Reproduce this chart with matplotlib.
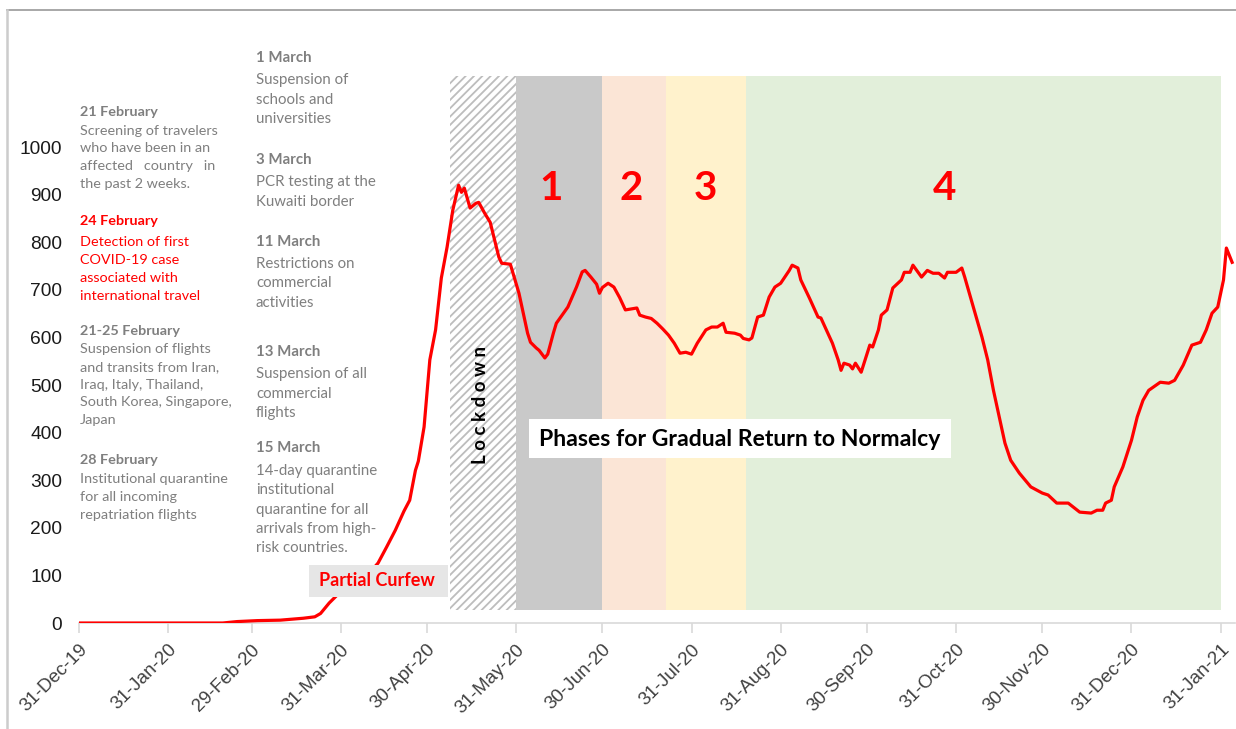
import matplotlib
matplotlib.use("Agg")
import matplotlib.pyplot as plt
import matplotlib.dates as mdates
import pandas as pd
from matplotlib.patches import Rectangle

# ---- data ----
dates = [
    "2019-12-31", "2020-02-19", "2020-02-24", "2020-03-02", "2020-03-10", "2020-03-18",
    "2020-03-22", "2020-03-24", "2020-03-27", "2020-03-30", "2020-04-03", "2020-04-07",
    "2020-04-11", "2020-04-13", "2020-04-16", "2020-04-19", "2020-04-22", "2020-04-24",
    "2020-04-26", "2020-04-27", "2020-04-29", "2020-05-01", "2020-05-03", "2020-05-05",
    "2020-05-07", "2020-05-09", "2020-05-11", "2020-05-12", "2020-05-13", "2020-05-15",
    "2020-05-17", "2020-05-18", "2020-05-20", "2020-05-22", "2020-05-25", "2020-05-26",
    "2020-05-29", "2020-06-01", "2020-06-04", "2020-06-05", "2020-06-07", "2020-06-08",
    "2020-06-10", "2020-06-11", "2020-06-13", "2020-06-14", "2020-06-16", "2020-06-18",
    "2020-06-21", "2020-06-23", "2020-06-24", "2020-06-26", "2020-06-28", "2020-06-29",
    "2020-06-30", "2020-07-02", "2020-07-04", "2020-07-06", "2020-07-08", "2020-07-10",
    "2020-07-12", "2020-07-13", "2020-07-15", "2020-07-17", "2020-07-19", "2020-07-21",
    "2020-07-23", "2020-07-25", "2020-07-27", "2020-07-29", "2020-07-31", "2020-08-02",
    "2020-08-05", "2020-08-07", "2020-08-09", "2020-08-11", "2020-08-12", "2020-08-15",
    "2020-08-17", "2020-08-18", "2020-08-20", "2020-08-21", "2020-08-23", "2020-08-25",
    "2020-08-27", "2020-08-29", "2020-08-31", "2020-09-03", "2020-09-04", "2020-09-06",
    "2020-09-07", "2020-09-10", "2020-09-13", "2020-09-14", "2020-09-18", "2020-09-20",
    "2020-09-21", "2020-09-22", "2020-09-24", "2020-09-25", "2020-09-26", "2020-09-28",
    "2020-10-01", "2020-10-02", "2020-10-04", "2020-10-05", "2020-10-07", "2020-10-09",
    "2020-10-12", "2020-10-13", "2020-10-15", "2020-10-16", "2020-10-19", "2020-10-21",
    "2020-10-23", "2020-10-25", "2020-10-27", "2020-10-28", "2020-10-31", "2020-11-02",
    "2020-11-03", "2020-11-06", "2020-11-09", "2020-11-11", "2020-11-13", "2020-11-15",
    "2020-11-17", "2020-11-19", "2020-11-22", "2020-11-26", "2020-11-30", "2020-12-02",
    "2020-12-05", "2020-12-09", "2020-12-13", "2020-12-17", "2020-12-19", "2020-12-21",
    "2020-12-22", "2020-12-24", "2020-12-25", "2020-12-28", "2020-12-31", "2021-01-02",
    "2021-01-04", "2021-01-06", "2021-01-10", "2021-01-13", "2021-01-15", "2021-01-18",
    "2021-01-21", "2021-01-24", "2021-01-26", "2021-01-28", "2021-01-30", "2021-02-01",
    "2021-02-02", "2021-02-04",
]
cases = [
    0, 0, 3, 5, 6, 10,
    13, 20, 42, 60, 72, 90,
    112, 126, 160, 195, 235, 258,
    321, 340, 412, 553, 616, 725,
    790, 868, 920, 905, 914, 872,
    882, 884, 862, 842, 769, 756,
    754, 693, 609, 590, 578, 573,
    557, 565, 610, 630, 647, 664,
    706, 738, 741, 727, 712, 693,
    705, 714, 706, 684, 658, 660,
    662, 647, 643, 640, 630, 618,
    605, 588, 567, 569, 565, 588,
    616, 622, 622, 630, 611, 609,
    605, 598, 595, 599, 643, 647,
    685, 706, 714, 741, 752, 746,
    721, 683, 643, 641, 588, 553,
    531, 546, 542, 534, 546, 527,
    584, 580, 616, 647, 658, 704,
    721, 737, 737, 752, 727, 741,
    735, 735, 725, 737, 737, 746,
    727, 664, 601, 553, 489, 433,
    378, 342, 315, 286, 273, 269,
    252, 252, 233, 231, 237, 237,
    252, 258, 286, 328, 384, 433,
    468, 489, 506, 504, 510, 542,
    584, 590, 616, 651, 664, 721,
    788, 758,
]

tick_dates = ["2019-12-31", "2020-01-31", "2020-02-29", "2020-03-31", "2020-04-30",
              "2020-05-31", "2020-06-30", "2020-07-31", "2020-08-31", "2020-09-30",
              "2020-10-31", "2020-11-30", "2020-12-31", "2021-01-31"]
y_ticks = [0, 100, 200, 300, 400, 500, 600, 700, 800, 900, 1000]

phase_names = ["Lockdown", "1", "2", "3", "4"]
phase_starts = ["2020-05-08", "2020-05-31", "2020-06-30", "2020-07-22", "2020-08-19"]
phase_ends = ["2020-05-31", "2020-06-30", "2020-07-22", "2020-08-19", "2021-01-31"]
phase_colors = ["white", "#c9c9c9", "#fbe5d6", "#fff2cc", "#e2efda"]
phase_label_dates = ["2020-05-20", "2020-06-12", "2020-07-10", "2020-08-05", "2020-10-27"]
band_low, band_high = 27, 1150

W, H = 1236, 729
GREY = "#7f7f7f"
RED = "#ff0000"
FONT = ["Lato", "DejaVu Sans"]

plt.rcParams["hatch.linewidth"] = 1.3
plt.rcParams["hatch.color"] = "#bdbdbd"

fig = plt.figure(figsize=(W / 100, H / 100), dpi=100)


def px(x, y):
    return x / W, 1 - y / H


ax = fig.add_axes([79 / W, 1 - 623 / H, (1235 - 79) / W, (623 - 52) / H])
ax.set_xlim(pd.Timestamp("2019-12-31"), pd.Timestamp("2021-02-05"))
ax.set_ylim(0, 1200)

# phase shading
for i, (s, e, c) in enumerate(zip(phase_starts, phase_ends, phase_colors)):
    s, e = pd.Timestamp(s), pd.Timestamp(e)
    if i == 0:
        ax.fill_between([s, e], band_low, band_high, facecolor="white",
                        edgecolor="#bdbdbd", hatch="////", linewidth=0, zorder=1)
    else:
        ax.fill_between([s, e], band_low, band_high, facecolor=c,
                        linewidth=0, zorder=1)
        ax.text(pd.Timestamp(phase_label_dates[i]), 914, phase_names[i],
                color=RED, fontsize=29, fontweight="bold", family=FONT,
                ha="center", va="center", zorder=4)

ax.plot(pd.to_datetime(dates), cases, color=RED, linewidth=2.3, zorder=3)

# axes styling
for side in ["top", "right", "left"]:
    ax.spines[side].set_visible(False)
ax.spines["bottom"].set_color("#d9d9d9")
ax.spines["bottom"].set_linewidth(1.2)
ax.set_xticks(pd.to_datetime(tick_dates))
ax.xaxis.set_major_formatter(mdates.DateFormatter("%d-%b-%y"))
ax.tick_params(axis="x", length=7, color="#d9d9d9", width=1.2, pad=6,
               labelsize=13.5, labelcolor="#404040")
for lbl in ax.get_xticklabels():
    lbl.set_rotation(45)
    lbl.set_ha("right")
    lbl.set_rotation_mode("anchor")
    lbl.set_family("Liberation Sans")
ax.set_yticks(y_ticks)
ax.tick_params(axis="y", length=0, pad=12, labelsize=13.8, labelcolor="#1a1a1a")
for lbl in ax.get_yticklabels():
    lbl.set_family("Liberation Sans")

# left column of events
left_blocks = [
    ("21 February", ["Screening of travelers", "who have been in an",
                     "affected   country   in", "the past 2 weeks."], GREY, 112, 131, 17.5),
    ("24 February", ["Detection of first", "COVID-19 case", "associated with",
                     "international travel"], RED, 221, 242, 18),
    ("21-25 February", ["Suspension of flights", "and transits from Iran,",
                        "Iraq, Italy, Thailand,", "South Korea, Singapore,", "Japan"],
     GREY, 331, 349, 17.8),
    ("28 February", ["Institutional quarantine", "for all incoming",
                     "repatriation flights"], GREY, 460, 479, 18),
]
right_blocks = [
    ("1 March", ["Suspension of", "schools and", "universities"], GREY, 58, 80, 19.5),
    ("3 March", ["PCR testing at the", "Kuwaiti border"], GREY, 160, 182, 19.5),
    ("11 March", ["Restrictions on", "commercial", "activities"], GREY, 242, 264, 19.5),
    ("13 March", ["Suspension of all", "commercial", "flights"], GREY, 352, 374, 19.5),
    ("15 March", ["14-day quarantine", "institutional", "quarantine for all",
                  "arrivals from high-", "risk countries."], GREY, 448, 471, 19.3),
]
for x0, blocks, fs in [(80, left_blocks, 10.4), (256, right_blocks, 10.8)]:
    for head, lines, col, yh, yb, step in blocks:
        fig.text(*px(x0, yh), head, color=col, fontsize=fs, fontweight="bold",
                 family=FONT, va="center", ha="left")
        for k, line in enumerate(lines):
            fig.text(*px(x0, yb + k * step), line, color=col, fontsize=fs,
                     family=FONT, va="center", ha="left")

# boxes (drawn above the curve)
fig.add_artist(Rectangle(px(309, 597), 139 / W, 32 / H, transform=fig.transFigure,
                         facecolor="#e6e6e6", edgecolor="none", zorder=5))
fig.text(*px(377, 581), "Partial Curfew", color=RED, fontsize=13, fontweight="bold",
         family=FONT, ha="center", va="center", zorder=6)
fig.add_artist(Rectangle(px(529, 458), 422 / W, 39 / H, transform=fig.transFigure,
                         facecolor="white", edgecolor="none", zorder=5))
fig.text(*px(740, 439), "Phases for Gradual Return to Normalcy", color="black",
         fontsize=16.6, fontweight="bold", family=FONT, ha="center", va="center", zorder=6)
fig.text(*px(481, 405), "L o c k d o w n", color="black", fontsize=13.5,
         fontweight="bold", family=FONT, rotation=90, ha="center", va="center")

# screenshot frame
fig.add_artist(plt.Line2D([7 / W, 1], [1 - 10 / H, 1 - 10 / H],
                          transform=fig.transFigure, color="#999999", linewidth=1.2))
fig.add_artist(plt.Line2D([7 / W, 7 / W], [0, 1 - 10 / H],
                          transform=fig.transFigure, color="#cccccc", linewidth=1.8))

fig.savefig("out.png", dpi=100)
